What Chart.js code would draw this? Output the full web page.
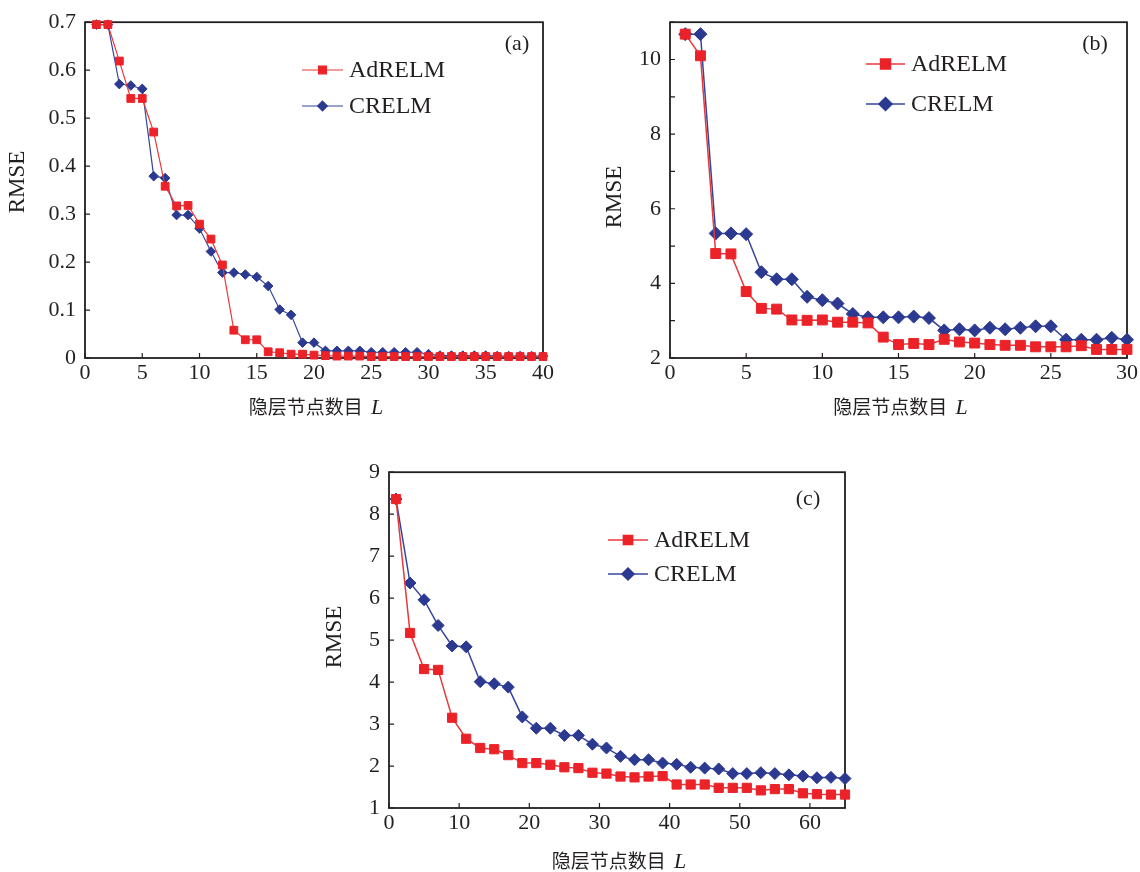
<!DOCTYPE html>
<html>
<head>
<meta charset="utf-8">
<script src="https://cdn.jsdelivr.net/npm/chart.js@4.4.1/dist/chart.umd.min.js"></script>
<style>
  html, body { margin: 0; padding: 0; background: #fff; }
  body { width: 1140px; height: 872px; position: relative; overflow: hidden; }
  .panel { position: absolute; }
</style>
</head>
<body>
<div class="panel" style="left:0;top:0;width:570px;height:420px"><canvas id="chart-a"></canvas></div>
<div class="panel" style="left:585px;top:0;width:555px;height:420px"><canvas id="chart-b"></canvas></div>
<div class="panel" style="left:300px;top:450px;width:570px;height:430px"><canvas id="chart-c"></canvas></div>
<script>
  // (a) hidden nodes 1..40
  var nodesA = [1, 2, 3, 4, 5, 6, 7, 8, 9, 10, 11, 12, 13, 14, 15, 16, 17, 18, 19, 20,
    21, 22, 23, 24, 25, 26, 27, 28, 29, 30, 31, 32, 33, 34, 35, 36, 37, 38, 39, 40];
  var adrelmA = [0.695, 0.695, 0.619, 0.541, 0.541, 0.471, 0.358, 0.317, 0.318, 0.279,
    0.248, 0.194, 0.058, 0.038, 0.038, 0.013, 0.011, 0.008, 0.008, 0.006,
    0.005, 0.004, 0.004, 0.004, 0.003, 0.003, 0.003, 0.003, 0.003, 0.003,
    0.003, 0.003, 0.003, 0.003, 0.003, 0.003, 0.003, 0.003, 0.003, 0.003];
  var crelmA = [0.695, 0.695, 0.571, 0.568, 0.561, 0.379, 0.375, 0.298, 0.298, 0.270,
    0.222, 0.178, 0.178, 0.174, 0.169, 0.150, 0.101, 0.090, 0.032, 0.032,
    0.015, 0.015, 0.015, 0.015, 0.012, 0.012, 0.012, 0.012, 0.012, 0.008,
    0.005, 0.005, 0.005, 0.005, 0.005, 0.004, 0.004, 0.004, 0.004, 0.004];

  // (b) hidden nodes 1..30
  var nodesB = [1, 2, 3, 4, 5, 6, 7, 8, 9, 10, 11, 12, 13, 14, 15, 16, 17, 18, 19, 20,
    21, 22, 23, 24, 25, 26, 27, 28, 29, 30];
  var adrelmB = [10.68, 10.10, 4.80, 4.79, 3.78, 3.33, 3.31, 3.02, 3.01, 3.02,
    2.96, 2.96, 2.94, 2.56, 2.36, 2.39, 2.36, 2.50, 2.43, 2.40,
    2.36, 2.34, 2.34, 2.30, 2.30, 2.30, 2.33, 2.23, 2.23, 2.23];
  var crelmB = [10.68, 10.68, 5.34, 5.34, 5.32, 4.30, 4.11, 4.11, 3.64, 3.55,
    3.46, 3.18, 3.09, 3.09, 3.09, 3.11, 3.07, 2.74, 2.77, 2.74,
    2.81, 2.77, 2.81, 2.85, 2.85, 2.49, 2.49, 2.49, 2.54, 2.49];

  // (c) hidden nodes 1, 3, ..., 65
  var nodesC = [1, 3, 5, 7, 9, 11, 13, 15, 17, 19, 21, 23, 25, 27, 29, 31, 33,
    35, 37, 39, 41, 43, 45, 47, 49, 51, 53, 55, 57, 59, 61, 63, 65];
  var adrelmC = [8.36, 5.17, 4.31, 4.29, 3.15, 2.65, 2.43, 2.40, 2.26, 2.07, 2.07,
    2.03, 1.97, 1.95, 1.84, 1.82, 1.75, 1.73, 1.75, 1.76, 1.56, 1.56, 1.56,
    1.48, 1.48, 1.48, 1.42, 1.45, 1.45, 1.35, 1.33, 1.32, 1.32];
  var crelmC = [8.36, 6.36, 5.96, 5.35, 4.86, 4.84, 4.01, 3.96, 3.88, 3.17, 2.90,
    2.90, 2.73, 2.73, 2.52, 2.43, 2.23, 2.15, 2.15, 2.07, 2.04, 1.97, 1.95,
    1.93, 1.82, 1.82, 1.84, 1.82, 1.79, 1.76, 1.72, 1.73, 1.70];

  var seriesNames = ['AdRELM', 'CRELM'];
  var xTitle = '隐层节点数目';
  var xTitleVar = 'L';
  var yTitle = 'RMSE';

  var RED = '#ec2229';
  var RED_LINE = '#e8383b';
  var BLUE = '#2b3990';
  var BLUE_LINE = '#36459c';
  var INK = '#231f20';
  var SERIF = '"Liberation Serif", "DejaVu Serif", serif';
  var CJK = '"Noto Sans CJK SC", sans-serif';

  function pts(xs, ys) {
    return xs.map(function (x, i) { return { x: x, y: ys[i] }; });
  }

  var decor = {
    id: 'decor',
    beforeDatasetsDraw: function (chart) {
      var a = chart.chartArea;
      var ctx = chart.ctx;
      ctx.save();
      ctx.strokeStyle = INK;
      ctx.lineWidth = 1.8;
      ctx.strokeRect(a.left, a.top, a.right - a.left, a.bottom - a.top);
      ctx.lineWidth = 1.2;
      ctx.beginPath();
      chart.scales.x.ticks.forEach(function (t) {
        var px = chart.scales.x.getPixelForValue(t.value);
        ctx.moveTo(px, a.bottom);
        ctx.lineTo(px, a.bottom - 5);
      });
      chart.scales.y.ticks.forEach(function (t) {
        var py = chart.scales.y.getPixelForValue(t.value);
        ctx.moveTo(a.left, py);
        ctx.lineTo(a.left + 5, py);
      });
      ctx.stroke();
      ctx.restore();
    },
    afterDraw: function (chart) {
      var o = chart.options.plugins.decor;
      var ctx = chart.ctx;
      var a = chart.chartArea;
      ctx.save();
      ctx.fillStyle = INK;
      ctx.textBaseline = 'middle';

      // legend
      chart.data.datasets.forEach(function (ds, i) {
        var y = o.legendY[i];
        ctx.strokeStyle = ds.borderColor;
        ctx.lineWidth = ds.borderWidth;
        ctx.beginPath();
        ctx.moveTo(o.legendX[0], y);
        ctx.lineTo(o.legendX[1], y);
        ctx.stroke();
        var mx = (o.legendX[0] + o.legendX[1]) / 2;
        ctx.fillStyle = ds.pointBackgroundColor;
        ctx.strokeStyle = ds.pointBorderColor;
        Chart.helpers.drawPoint(ctx, {
          pointStyle: ds.pointStyle,
          radius: ds.pointRadius,
          rotation: 0,
          borderWidth: 1
        }, mx, y);
        ctx.fillStyle = INK;
        ctx.font = '24px ' + SERIF;
        ctx.textAlign = 'left';
        ctx.fillText(ds.label, o.legendX[1] + 6, y + 1);
      });

      // panel tag
      ctx.font = '22px ' + SERIF;
      ctx.textAlign = 'center';
      ctx.fillText(o.tag, o.tagPos[0], o.tagPos[1]);

      // x title with italic variable
      ctx.font = '19px ' + CJK;
      var w1 = ctx.measureText(xTitle + ' ').width;
      ctx.font = 'italic 22px ' + SERIF;
      var w2 = ctx.measureText(xTitleVar).width;
      var cx = (a.left + a.right) / 2;
      var x0 = cx - (w1 + w2) / 2;
      ctx.textAlign = 'left';
      ctx.font = '19px ' + CJK;
      ctx.fillText(xTitle + ' ', x0, o.xTitleY);
      ctx.font = 'italic 22px ' + SERIF;
      ctx.fillText(xTitleVar, x0 + w1 + 4, o.xTitleY + 1);

      // y title
      ctx.translate(o.yTitlePos[0], o.yTitlePos[1]);
      ctx.rotate(-Math.PI / 2);
      ctx.textAlign = 'center';
      ctx.font = '23px ' + SERIF;
      ctx.fillText(yTitle, 0, 0);
      ctx.restore();
    }
  };

  function makeChart(id, cfg) {
    var el = document.getElementById(id);
    return new Chart(el, {
      type: 'line',
      data: {
        datasets: [
          {
            label: seriesNames[0],
            data: pts(cfg.xs, cfg.red),
            borderColor: RED_LINE,
            borderWidth: cfg.lineWidth,
            pointStyle: 'rect',
            pointRadius: cfg.rectR,
            pointBackgroundColor: RED,
            pointBorderColor: RED,
            pointBorderWidth: 1,
            tension: 0,
            clip: false
          },
          {
            label: seriesNames[1],
            data: pts(cfg.xs, cfg.blue),
            borderColor: BLUE_LINE,
            borderWidth: cfg.lineWidth,
            pointStyle: 'rectRot',
            pointRadius: cfg.diaR,
            pointBackgroundColor: BLUE,
            pointBorderColor: BLUE,
            pointBorderWidth: 1,
            tension: 0,
            clip: false
          }
        ]
      },
      options: {
        responsive: true,
        maintainAspectRatio: false,
        animation: false,
        events: [],
        layout: { padding: { top: cfg.padTop, right: cfg.padRight, left: 0, bottom: 0 } },
        plugins: {
          legend: { display: false },
          tooltip: { enabled: false },
          decor: cfg.decor
        },
        scales: {
          x: {
            type: 'linear',
            min: cfg.xMin,
            max: cfg.xMax,
            grid: { display: false, drawTicks: false },
            border: { display: false },
            afterFit: function (s) { s.height = cfg.xH; },
            ticks: {
              stepSize: cfg.xStep,
              includeBounds: false,
              maxRotation: 0,
              autoSkip: false,
              padding: 2,
              color: INK,
              font: { family: SERIF, size: 22 }
            }
          },
          y: {
            min: cfg.yMin,
            max: cfg.yMax,
            grid: { display: false, drawTicks: false },
            border: { display: false },
            afterFit: function (s) { s.width = cfg.yW; },
            ticks: {
              stepSize: cfg.yStep,
              autoSkip: false,
              padding: 9,
              color: INK,
              font: { family: SERIF, size: 22 },
              callback: cfg.yLabel
            }
          }
        }
      },
      plugins: [decor]
    });
  }

  makeChart('chart-a', {
    xs: nodesA, red: adrelmA, blue: crelmA,
    lineWidth: 1.2, rectR: 5.5, diaR: 4.8,
    padTop: 18, padRight: 27, xH: 62, yW: 85,
    xMin: 0, xMax: 40, xStep: 5, yMin: 0, yMax: 0.7, yStep: 0.1,
    yLabel: function (v) { return Math.round(v * 10) / 10; },
    decor: { legendX: [302, 343], legendY: [70, 106], tag: '(a)', tagPos: [517, 44],
      xTitleY: 407, yTitlePos: [18, 182] }
  });

  makeChart('chart-b', {
    xs: nodesB, red: adrelmB, blue: crelmB,
    lineWidth: 1.5, rectR: 7, diaR: 6.5,
    padTop: 17, padRight: 10, xH: 62, yW: 85,
    xMin: 0, xMax: 30, xStep: 5, yMin: 2, yMax: 11, yStep: 1,
    yLabel: function (v) { return v % 2 === 0 ? v : ''; },
    decor: { legendX: [281, 320], legendY: [64, 104], tag: '(b)', tagPos: [510, 44],
      xTitleY: 407, yTitlePos: [30, 197] }
  });

  makeChart('chart-c', {
    xs: nodesC, red: adrelmC, blue: crelmC,
    lineWidth: 1.5, rectR: 6.5, diaR: 6,
    padTop: 17, padRight: 25, xH: 72, yW: 89,
    xMin: 0, xMax: 65, xStep: 10, yMin: 1, yMax: 9, yStep: 1,
    yLabel: function (v) { return v; },
    decor: { legendX: [308, 348], legendY: [90, 124], tag: '(c)', tagPos: [508, 49],
      xTitleY: 411, yTitlePos: [35, 187] }
  });
</script>
</body>
</html>
